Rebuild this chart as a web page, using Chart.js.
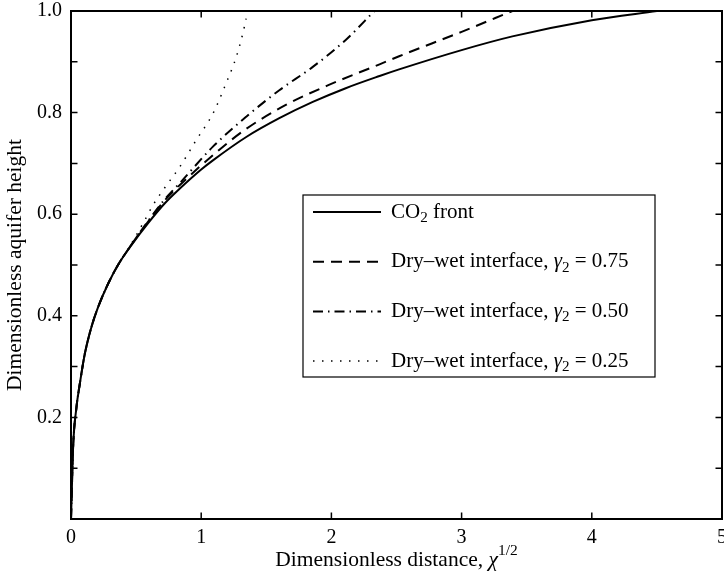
<!DOCTYPE html>
<html>
<head>
<meta charset="utf-8">
<script src="https://cdn.jsdelivr.net/npm/chart.js@4.4.0/dist/chart.umd.min.js"></script>
<style>
  html, body { margin: 0; padding: 0; background: #fff; }
  #wrap { width: 724px; height: 579px; position: relative; }
</style>
</head>
<body>
<div id="wrap"><canvas id="chart"></canvas></div>
<script>
// values
const co2X = [0, 0.004, 0.016, 0.042, 0.067, 0.106, 0.157, 0.208, 0.285, 0.361, 0.464, 0.591, 0.719, 0.834, 1.0, 1.09, 1.346, 1.6, 1.857, 2.11, 2.37, 2.52, 3.0, 3.39, 4.0, 4.5];
const co2Y = [0, 0.036, 0.141, 0.22, 0.265, 0.325, 0.378, 0.417, 0.463, 0.5, 0.539, 0.582, 0.621, 0.650, 0.688, 0.706, 0.752, 0.789, 0.821, 0.848, 0.872, 0.885, 0.923, 0.95, 0.982, 1.0];

const g075X = [0, 0.004, 0.016, 0.042, 0.067, 0.106, 0.157, 0.208, 0.285, 0.361, 0.464, 0.591, 0.719, 0.834, 1.14, 1.346, 1.65, 1.985, 2.37, 2.52, 3.0, 3.39];
const g075Y = [0, 0.036, 0.141, 0.22, 0.265, 0.325, 0.378, 0.417, 0.463, 0.5, 0.54, 0.585, 0.627, 0.657, 0.727, 0.768, 0.815, 0.855, 0.895, 0.911, 0.959, 1.0];

const g050X = [0, 0.004, 0.016, 0.042, 0.067, 0.106, 0.157, 0.208, 0.285, 0.361, 0.464, 0.591, 0.719, 0.835, 1.09, 1.346, 1.6, 1.857, 2.11, 2.33];
const g050Y = [0, 0.036, 0.141, 0.22, 0.265, 0.325, 0.378, 0.417, 0.463, 0.5, 0.54, 0.586, 0.629, 0.661, 0.733, 0.792, 0.844, 0.89, 0.943, 1.0];

const g025X = [0, 0.004, 0.016, 0.042, 0.067, 0.106, 0.157, 0.208, 0.285, 0.361, 0.464, 0.566, 0.63, 0.72, 0.835, 0.962, 1.09, 1.19, 1.27, 1.32, 1.345];
const g025Y = [0, 0.036, 0.141, 0.22, 0.265, 0.325, 0.378, 0.417, 0.463, 0.5, 0.542, 0.588, 0.618, 0.652, 0.693, 0.746, 0.798, 0.857, 0.91, 0.956, 0.985];

const xTickValues = [0, 1, 2, 3, 4, 5];
const yTickValues = [0, 0.1, 0.2, 0.3, 0.4, 0.5, 0.6, 0.7, 0.8, 0.9, 1.0];
const yTickLabels = ['', '', '0.2', '', '0.4', '', '0.6', '', '0.8', '', '1.0'];

const xTitle = [{ t: 'Dimensionless distance, ' }, { t: '\u03c7', italic: true }, { t: '1/2', sup: true }];
const yTitle = 'Dimensionless aquifer height';
const legendParts = [
  [{ t: 'CO' }, { t: '2', sub: true }, { t: ' front' }],
  [{ t: 'Dry\u2013wet interface, ' }, { t: '\u03b3', italic: true }, { t: '2', sub: true }, { t: ' = 0.75' }],
  [{ t: 'Dry\u2013wet interface, ' }, { t: '\u03b3', italic: true }, { t: '2', sub: true }, { t: ' = 0.50' }],
  [{ t: 'Dry\u2013wet interface, ' }, { t: '\u03b3', italic: true }, { t: '2', sub: true }, { t: ' = 0.25' }]
];

const FONT = '"Liberation Serif", "Times New Roman", serif';
Chart.defaults.font.family = FONT;
Chart.defaults.color = '#000';

const toPoints = (xs, ys) => xs.map((x, i) => ({ x: x, y: ys[i] }));

function richWidth(ctx, parts, size) {
  let w = 0;
  parts.forEach(p => {
    const s = (p.sub || p.sup) ? size * 0.72 : size;
    ctx.font = (p.italic ? 'italic ' : '') + s + 'px ' + FONT;
    w += ctx.measureText(p.t).width;
  });
  return w;
}

function drawRich(ctx, parts, x, y, size) {
  parts.forEach(p => {
    const s = (p.sub || p.sup) ? size * 0.72 : size;
    ctx.font = (p.italic ? 'italic ' : '') + s + 'px ' + FONT;
    const dy = p.sub ? size * 0.28 : (p.sup ? -size * 0.42 : 0);
    ctx.fillText(p.t, x, y + dy);
    x += ctx.measureText(p.t).width;
  });
}

// matlab-like box, inward ticks, legend and x title
const matlabFrame = {
  id: 'matlabFrame',
  afterDatasetsDraw(chart) {
    const { ctx, chartArea: a, scales: { x, y } } = chart;
    ctx.save();
    ctx.strokeStyle = '#000';
    ctx.lineWidth = 1.5;
    ctx.setLineDash([]);
    xTickValues.forEach(v => {
      const px = x.getPixelForValue(v);
      ctx.beginPath();
      ctx.moveTo(px, a.bottom); ctx.lineTo(px, a.bottom - 6.5);
      ctx.moveTo(px, a.top); ctx.lineTo(px, a.top + 6.5);
      ctx.stroke();
    });
    yTickValues.forEach(v => {
      const py = y.getPixelForValue(v);
      ctx.beginPath();
      ctx.moveTo(a.left, py); ctx.lineTo(a.left + 6.5, py);
      ctx.moveTo(a.right, py); ctx.lineTo(a.right - 6.5, py);
      ctx.stroke();
    });
    ctx.lineWidth = 2;
    ctx.strokeRect(a.left, a.top, a.right - a.left, a.bottom - a.top);

    // legend
    const bx = 303, by = 195, bw = 352, bh = 182;
    ctx.fillStyle = '#fff';
    ctx.fillRect(bx, by, bw, bh);
    ctx.lineWidth = 1.2;
    ctx.strokeStyle = '#000';
    ctx.strokeRect(bx, by, bw, bh);
    ctx.textBaseline = 'middle';
    ctx.fillStyle = '#000';
    chart.data.datasets.forEach((ds, i) => {
      const ry = 212 + i * 49.7;
      ctx.strokeStyle = ds.borderColor;
      ctx.lineWidth = ds.borderWidth;
      ctx.setLineDash(ds.borderDash || []);
      ctx.beginPath();
      ctx.moveTo(313, ry); ctx.lineTo(381, ry);
      ctx.stroke();
      ctx.setLineDash([]);
      drawRich(ctx, legendParts[i], 391, ry, 21);
    });

    // x axis title
    const size = 21.5;
    const w = richWidth(ctx, xTitle, size);
    drawRich(ctx, xTitle, (a.left + a.right) / 2 - w / 2, 560, size);
    ctx.restore();
  }
};

const lineStyle = (data, dash, width) => ({
  data: data,
  borderColor: '#000',
  borderWidth: width,
  borderDash: dash,
  pointRadius: 0,
  showLine: true,
  fill: false,
  cubicInterpolationMode: 'monotone'
});

new Chart(document.getElementById('chart').getContext('2d'), {
  type: 'scatter',
  data: {
    datasets: [
      Object.assign(lineStyle(toPoints(co2X, co2Y), [], 2), { label: 'CO2 front' }),
      Object.assign(lineStyle(toPoints(g075X, g075Y), [11, 7], 2), { label: 'Dry-wet interface, 0.75' }),
      Object.assign(lineStyle(toPoints(g050X, g050Y), [10, 5, 1.5, 5], 2), { label: 'Dry-wet interface, 0.50' }),
      Object.assign(lineStyle(toPoints(g025X, g025Y), [1.5, 7.5], 1.5), { label: 'Dry-wet interface, 0.25' })
    ]
  },
  options: {
    responsive: true,
    maintainAspectRatio: false,
    animation: false,
    layout: { padding: { left: 0, top: 11, right: 2, bottom: 0 } },
    plugins: {
      legend: { display: false },
      tooltip: { enabled: false }
    },
    scales: {
      x: {
        type: 'linear',
        min: 0,
        max: 5,
        grid: { display: false, drawTicks: false },
        border: { display: false },
        ticks: {
          stepSize: 1,
          padding: 7,
          font: { size: 20 },
          color: '#000',
          callback: v => String(v)
        },
        afterFit: s => { s.height = 60; s.paddingLeft = 0; s.paddingRight = 0; }
      },
      y: {
        type: 'linear',
        min: 0,
        max: 1,
        grid: { display: false, drawTicks: false },
        border: { display: false },
        title: {
          display: true,
          text: yTitle,
          font: { size: 21.5 },
          color: '#000',
          padding: { top: 2, bottom: 0 }
        },
        ticks: {
          stepSize: 0.1,
          autoSkip: false,
          padding: 9,
          font: { size: 20 },
          color: '#000',
          callback: v => yTickLabels[Math.round(v * 10)]
        },
        afterFit: s => { s.width = 71; s.paddingTop = 0; s.paddingBottom = 0; }
      }
    }
  },
  plugins: [matlabFrame]
});
</script>
</body>
</html>
